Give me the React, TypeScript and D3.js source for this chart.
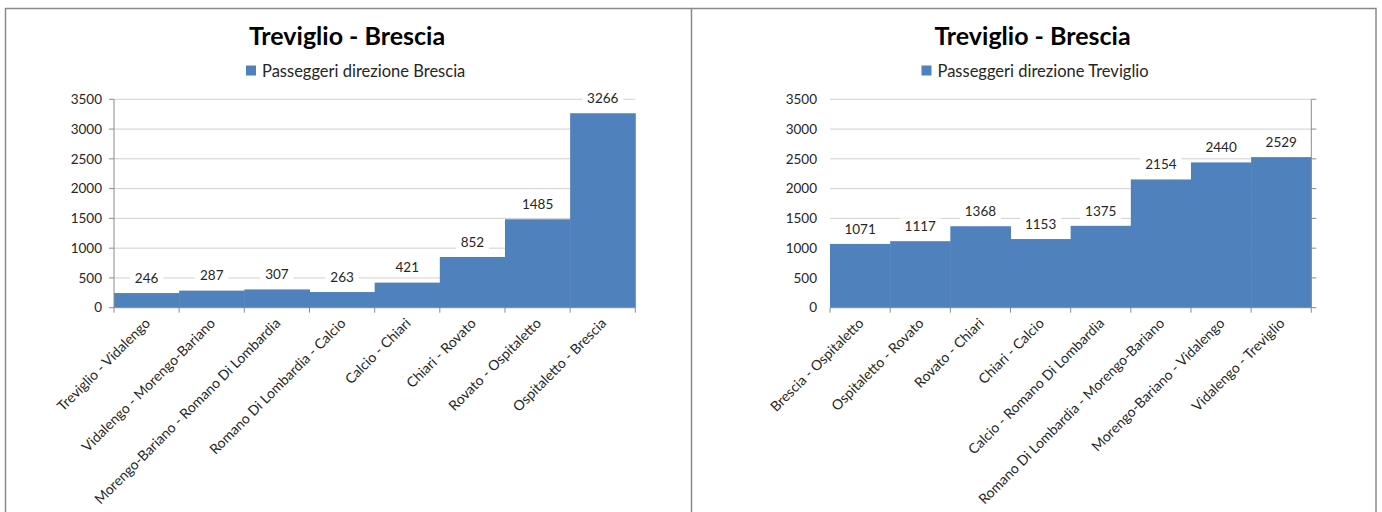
import React from "react";
import * as d3 from "d3";

const titleText = "Treviglio - Brescia";

const leftSeriesName = "Passeggeri direzione Brescia";
const leftCategories = [
  "Treviglio - Vidalengo",
  "Vidalengo - Morengo-Bariano",
  "Morengo-Bariano - Romano Di Lombardia",
  "Romano Di Lombardia - Calcio",
  "Calcio - Chiari",
  "Chiari - Rovato",
  "Rovato - Ospitaletto",
  "Ospitaletto - Brescia",
];
const leftValues = [246, 287, 307, 263, 421, 852, 1485, 3266];

const rightSeriesName = "Passeggeri direzione Treviglio";
const rightCategories = [
  "Brescia - Ospitaletto",
  "Ospitaletto - Rovato",
  "Rovato - Chiari",
  "Chiari - Calcio",
  "Calcio - Romano Di Lombardia",
  "Romano Di Lombardia - Morengo-Bariano",
  "Morengo-Bariano - Vidalengo",
  "Vidalengo - Treviglio",
];
const rightValues = [1071, 1117, 1368, 1153, 1375, 2154, 2440, 2529];

const yTicks = [0, 500, 1000, 1500, 2000, 2500, 3000, 3500];

const FONT = "Lato, 'Open Sans', sans-serif";
const BAR = "#4F81BD";
const GRID = "#d0d0d0";
const AXIS = "#8c8c8c";
const TEXT = "#262626";

type ChartProps = {
  categories: string[];
  values: number[];
  seriesName: string;
  frameX0: number;
  frameX1: number;
  plotX0: number;
  plotX1: number;
  legendX: number;
  axisRight: boolean;
};

function Chart(p: ChartProps) {
  const yBottom = 307.7;
  const yTop = 99.3;
  const x = d3.scaleBand<string>().domain(p.categories).range([p.plotX0, p.plotX1]).padding(0);
  const y = d3.scaleLinear().domain([0, 3500]).range([yBottom, yTop]);
  const cx = (p.frameX0 + p.frameX1) / 2;
  const axisX = p.axisRight ? p.plotX1 : p.plotX0;
  const tickDir = p.axisRight ? 1 : -1;
  const labelX = p.axisRight ? p.plotX0 - 13 : p.plotX0 - 12;
  return (
    <g>
      {/* title */}
      <text x={cx - 1} y={45} textAnchor="middle" fontFamily={FONT} fontWeight="bold" fontSize={25} fill="#000">
        {titleText}
      </text>
      {/* legend */}
      <rect x={p.legendX} y={65.5} width={10} height={10} fill={BAR} />
      <text x={p.legendX + 16} y={76.5} fontFamily={FONT} fontSize={16.5} fill={TEXT}>
        {p.seriesName}
      </text>
      {/* gridlines */}
      {yTicks.filter((t) => t > 0).map((t) => (
        <line key={"g" + t} x1={p.plotX0} x2={p.plotX1} y1={y(t)} y2={y(t)} stroke={GRID} strokeWidth={1} />
      ))}
      {/* bars */}
      {p.categories.map((c, i) => (
        <rect
          key={"b" + c}
          x={x(c)!}
          y={y(p.values[i])}
          width={x.bandwidth() + 0.5}
          height={yBottom - y(p.values[i])}
          fill={BAR}
        />
      ))}
      {/* value axis line and ticks */}
      <line x1={axisX} x2={axisX} y1={yTop} y2={yBottom} stroke={AXIS} strokeWidth={1} />
      {yTicks.map((t) => (
        <line key={"yt" + t} x1={axisX} x2={axisX + tickDir * 5} y1={y(t)} y2={y(t)} stroke={AXIS} strokeWidth={1} />
      ))}
      {yTicks.map((t) => (
        <text key={"yl" + t} x={labelX} y={y(t)} dy="0.35em" textAnchor="end" fontFamily={FONT} fontSize={13.5} fill={TEXT}>
          {t}
        </text>
      ))}
      {/* category axis */}
      <line x1={p.plotX0} x2={p.plotX1} y1={yBottom} y2={yBottom} stroke={AXIS} strokeWidth={1} />
      {p.categories.concat([""]).map((c, i) => {
        const xx = p.plotX0 + i * x.bandwidth();
        return <line key={"xt" + i} x1={xx} x2={xx} y1={yBottom} y2={yBottom + 5} stroke={AXIS} strokeWidth={1} />;
      })}
      {p.categories.map((c) => {
        const xc = x(c)! + x.bandwidth() / 2;
        return (
          <text
            key={"xl" + c}
            transform={`translate(${xc + 1},${yBottom + 13}) rotate(-45)`}
            textAnchor="end"
            dy="0.35em"
            fontFamily={FONT}
            fontSize={14}
            fill={TEXT}
          >
            {c}
          </text>
        );
      })}
      {/* data labels */}
      {p.categories.map((c, i) => {
        const xc = x(c)! + x.bandwidth() / 2;
        const ly = y(p.values[i]) - 15;
        const w = String(p.values[i]).length * 7.8 + 10;
        return (
          <g key={"dl" + c}>
            <rect x={xc - w / 2} y={ly - 8} width={w} height={16} fill="#fff" />
            <text x={xc} y={ly} dy="0.35em" textAnchor="middle" fontFamily={FONT} fontSize={13.5} fill={TEXT}>
              {p.values[i]}
            </text>
          </g>
        );
      })}
    </g>
  );
}

export default function App() {
  return (
    <svg
      width={1382}
      height={512}
      style={{ position: "absolute", left: 0, top: 0, background: "#fff" }}
    >
      <rect x={0} y={0} width={1382} height={512} fill="#fff" />
      <Chart
        categories={leftCategories}
        values={leftValues}
        seriesName={leftSeriesName}
        frameX0={5}
        frameX1={691}
        plotX0={114}
        plotX1={635.3}
        legendX={246}
        axisRight={false}
      />
      <Chart
        categories={rightCategories}
        values={rightValues}
        seriesName={rightSeriesName}
        frameX0={691}
        frameX1={1376}
        plotX0={830}
        plotX1={1311.3}
        legendX={921.5}
        axisRight={true}
      />
      {/* frames */}
      <polyline points="5.5,512 5.5,8.5 691.5,8.5 691.5,512" fill="none" stroke="#8a8a8a" strokeWidth={1.5} />
      <polyline points="691.5,8.5 1376,8.5 1376,512" fill="none" stroke="#8a8a8a" strokeWidth={1.5} />
    </svg>
  );
}
